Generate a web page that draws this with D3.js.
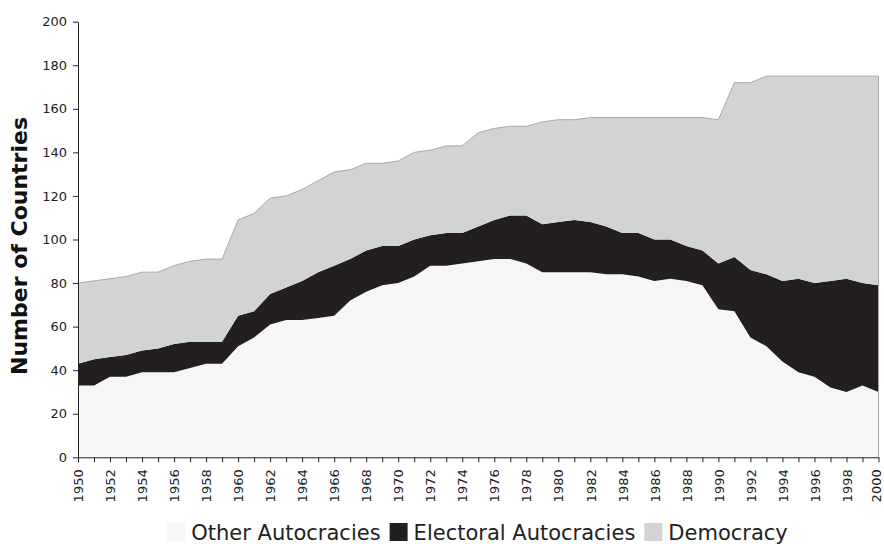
<!DOCTYPE html>
<html>
<head>
<meta charset="utf-8">
<script src="https://cdn.jsdelivr.net/npm/d3@7/dist/d3.min.js"></script>
<style>
  html, body { margin: 0; padding: 0; background: #fff; }
  svg { display: block; }
  text { font-family: "DejaVu Sans", Verdana, sans-serif; }
</style>
</head>
<body>
<svg id="chart" width="884" height="544"></svg>
<script>
const years = d3.range(1950, 2001);
const seriesNames = ["Other Autocracies", "Electoral Autocracies", "Democracy"];
const otherAutocracies = [
  33, 33, 37, 37, 39, 39, 39, 41, 43, 43,
  51, 55, 61, 63, 63, 64, 65, 72, 76, 79,
  80, 83, 88, 88, 89, 90, 91, 91, 89, 85,
  85, 85, 85, 84, 84, 83, 81, 82, 81, 79,
  68, 67, 55, 51, 44, 39, 37, 32, 30, 33,
  30
];
const electoralAutocracies = [
  10, 12, 9, 10, 10, 11, 13, 12, 10, 10,
  14, 12, 14, 15, 18, 21, 23, 19, 19, 18,
  17, 17, 14, 15, 14, 16, 18, 20, 22, 22,
  23, 24, 23, 22, 19, 20, 19, 18, 16, 16,
  21, 25, 31, 33, 37, 43, 43, 49, 52, 47,
  49
];
const democracy = [
  37, 36, 36, 36, 36, 35, 36, 37, 38, 38,
  44, 45, 44, 42, 42, 42, 43, 41, 40, 38,
  39, 40, 39, 40, 40, 43, 42, 41, 41, 47,
  47, 46, 48, 50, 53, 53, 56, 56, 59, 61,
  66, 80, 86, 91, 94, 93, 95, 94, 93, 95,
  96
];
const yTicks = [0, 20, 40, 60, 80, 100, 120, 140, 160, 180, 200];
const colors = ["#f6f6f6", "#231f20", "#d2d3d5"];

const rows = years.map((yr, i) => ({
  year: yr,
  "Other Autocracies": otherAutocracies[i],
  "Electoral Autocracies": electoralAutocracies[i],
  "Democracy": democracy[i]
}));

const svg = d3.select("#chart");
const x = d3.scaleLinear().domain([1950, 2000]).range([78, 878.5]);
const y = d3.scaleLinear().domain([0, 200]).range([457.3, 21.7]);

const stack = d3.stack().keys(seriesNames);
const layers = stack(rows);

const area = d3.area()
  .x(d => x(d.data.year))
  .y0(d => y(d[0]))
  .y1(d => y(d[1]));

svg.append("g").selectAll("path")
  .data(layers)
  .join("path")
  .attr("d", area)
  .attr("fill", (d, i) => colors[i]);

// outline of the top (total) and right edge
const topLayer = layers[layers.length - 1];
const totalLine = d3.line().x(d => x(d.data.year)).y(d => y(d[1]));
svg.append("path")
  .attr("d", totalLine(topLayer))
  .attr("fill", "none")
  .attr("stroke", "#a9a9a9")
  .attr("stroke-width", 1);
const lastPt = topLayer[topLayer.length - 1];
svg.append("line")
  .attr("x1", x(2000)).attr("x2", x(2000))
  .attr("y1", y(0)).attr("y2", y(lastPt[1]))
  .attr("stroke", "#a9a9a9")
  .attr("stroke-width", 1);

// Y axis
const yAxis = svg.append("g")
  .attr("transform", `translate(${x(1950)},0)`)
  .call(d3.axisLeft(y).tickValues(yTicks).tickSize(5).tickPadding(6).tickSizeOuter(0));
yAxis.selectAll("text").attr("font-size", 13).attr("fill", "#222")
  .style("font-family", '"DejaVu Sans", Verdana, sans-serif');
yAxis.selectAll("line, path").attr("stroke", "#222");

// X axis
const xAxis = svg.append("g")
  .attr("transform", `translate(0,${y(0)})`)
  .call(d3.axisBottom(x).tickValues(years).tickSize(5).tickSizeOuter(0)
    .tickFormat(d => (d % 2 === 0 ? String(d) : "")));
xAxis.selectAll("text")
  .attr("font-size", 13).attr("fill", "#222")
  .style("font-family", '"DejaVu Sans", Verdana, sans-serif')
  .attr("y", d => (d === 2000 ? -2.5 : 0)).attr("x", -12).attr("dy", "0.36em")
  .attr("transform", "rotate(-90)")
  .style("text-anchor", "end");
xAxis.selectAll("line, path").attr("stroke", "#222");

// Y title
svg.append("text")
  .attr("transform", "translate(27,246) rotate(-90)")
  .attr("text-anchor", "middle")
  .attr("font-size", 22)
  .attr("font-weight", "bold")
  .attr("fill", "#111")
  .text("Number of Countries");

// Legend
const legend = svg.append("g");
let cx = 0;
seriesNames.forEach((name, i) => {
  const g = legend.append("g").attr("transform", `translate(${cx},0)`);
  g.append("rect").attr("x", 0).attr("y", 523).attr("width", 18).attr("height", 18)
    .attr("fill", colors[i]);
  const t = g.append("text").attr("x", 24).attr("y", 539.5)
    .attr("font-size", 21).attr("fill", "#222").text(name);
  const w = t.node().getComputedTextLength();
  cx += 24 + w + 9;
});
const totalW = cx - 9;
legend.attr("transform", `translate(${477.5 - totalW / 2},0)`);
</script>
</body>
</html>
